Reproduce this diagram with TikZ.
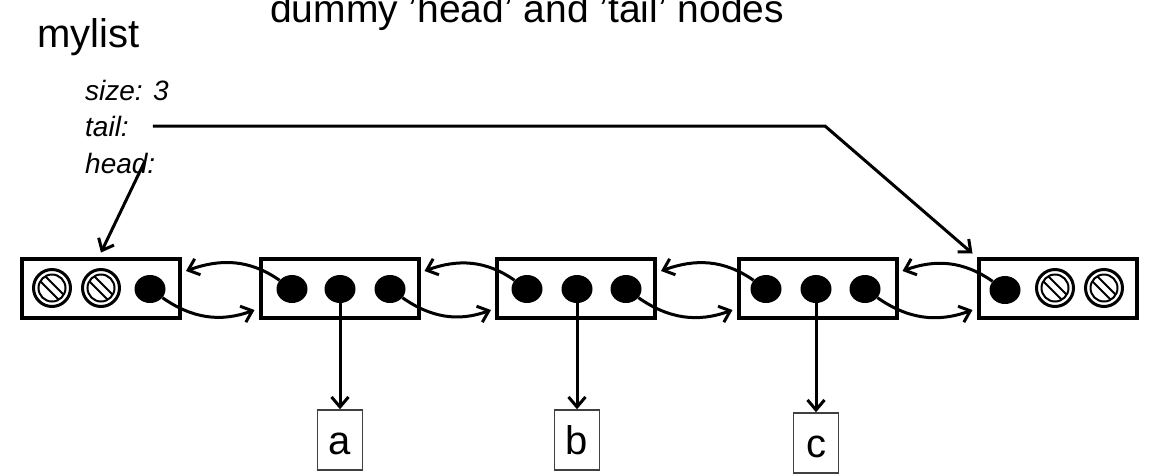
\documentclass[tikz,border=0pt]{standalone}
\usepackage{fontspec}
\setmainfont{Liberation Sans}
\usetikzlibrary{positioning, shapes.geometric, arrows.meta, calc}

\begin{document}
\begin{tikzpicture}[
    x=1pt, y=1pt,
    >={Straight Barb[length=10pt, width=17pt]}, % open V arrows
    % Styles
    listbox/.style={ % One node of the list
        rectangle,
        draw,
        line width=4pt,
        minimum width=158pt,
        minimum height=59pt
    },
    dot/.style={ % A pointer field
        ellipse,
        fill,
        inner sep=0pt,
        minimum width=31pt,
        minimum height=28pt
    },
    valbox/.style={ % Data item
        rectangle,
        draw=black!75,
        line width=1.5pt,
        minimum width=45pt,
        minimum height=60pt,
        inner sep=0pt,
        text height=29pt,
        text depth=0pt,
        font=\fontsize{40}{48}\selectfont
    },
    field/.style={ % Fields of mylist
        anchor=base west,
        inner sep=0pt,
        font=\fontsize{28}{34}\selectfont\itshape
    },
    ptr/.style={
        ->,
        line width=3pt
    },
    nullmark/.pic={ % Null pointer
        \draw[line width=3pt] (0,0) circle (18.5);
        \draw[line width=2pt] (0,0) circle (13.5);
        \begin{scope}
            \clip (0,0) circle (13);
            \draw[line width=2pt] (-17.5,22.5) -- (22.5,-17.5);
            \draw[line width=2pt] (-22.5,17.5) -- (17.5,-22.5);
        \end{scope}
    }
]
    \useasboundingbox (0,0) rectangle (1165,-475);

    % Titles
    \node[anchor=base west, inner sep=0pt, font=\fontsize{39}{46}\selectfont] (title) at (270,-22)
        {dummy 'head' and 'tail' nodes};
    \node[anchor=base west, inner sep=0pt, font=\fontsize{40}{48}\selectfont] (mylist) at (37,-47) {mylist};

    % Fields of mylist
    \node[field] (size) at (85,-100) {size: 3};
    \node[field] (tail) at (85,-136) {tail:};
    \node[field] (head) at (85,-173) {head:};

    % List nodes
    \node[listbox] (b0) at (101,-288) {};
    \node[listbox] (b1) at (339.5,-288) {};
    \node[listbox] (b2) at (576,-288) {};
    \node[listbox] (b3) at (817.5,-288) {};
    \node[listbox] (b4) at (1057.5,-288) {};

    % Pointer fields
    \pic at (52,-288) {nullmark};
    \pic at (101,-288) {nullmark};
    \node[dot] (n0) at (150,-289) {};
    \node[dot] (p1) at (292,-289) {};
    \node[dot] (v1) at (340,-289) {};
    \node[dot] (n1) at (390,-289) {};
    \node[dot] (p2) at (527,-289) {};
    \node[dot] (v2) at (577,-289) {};
    \node[dot] (n2) at (626,-289) {};
    \node[dot] (p3) at (766,-289) {};
    \node[dot] (v3) at (816,-289) {};
    \node[dot] (n3) at (865,-289) {};
    \node[dot] (p4) at (1005,-290) {};
    \pic at (1055,-288) {nullmark};
    \pic at (1104,-288) {nullmark};

    % Data items
    \node[valbox] (va) at (340,-440) {a};
    \node[valbox] (vb) at (577,-440) {b};
    \node[valbox] (vc) at (816,-443) {c};

    % head and tail pointers
    \coordinate (bend) at (825,-126);
    \draw[ptr] ([xshift=-11pt,yshift=11pt]head.base east) -- ([yshift=4pt]b0.north);
    \draw[ptr] ([xshift=24pt,yshift=10pt]tail.base east) -- (bend) -- ([shift={(-4pt,3pt)}]b4.north west);

    % next pointers
    \draw[ptr] (n0.-35) to[out=-35, in=200] ([xshift=-4pt,yshift=-22pt]b1.west);
    \draw[ptr] (n1.-35) to[out=-35, in=200] ([xshift=-4pt,yshift=-22pt]b2.west);
    \draw[ptr] (n2.-35) to[out=-35, in=200] ([xshift=-4pt,yshift=-22pt]b3.west);
    \draw[ptr] (n3.-35) to[out=-35, in=200] ([xshift=-4pt,yshift=-22pt]b4.west);

    % prev pointers
    \draw[ptr] (p1.145) to[out=145, in=20] ([xshift=4pt,yshift=17pt]b0.east);
    \draw[ptr] (p2.145) to[out=145, in=20] ([xshift=4pt,yshift=17pt]b1.east);
    \draw[ptr] (p3.145) to[out=145, in=20] ([xshift=4pt,yshift=17pt]b2.east);
    \draw[ptr] (p4.145) to[out=145, in=20] ([xshift=4pt,yshift=17pt]b3.east);

    % data pointers
    \draw[ptr] (v1) -- (v1 |- va.north);
    \draw[ptr] (v2) -- (v2 |- vb.north);
    \draw[ptr] (v3) -- (v3 |- vc.north);
\end{tikzpicture}
\end{document}
